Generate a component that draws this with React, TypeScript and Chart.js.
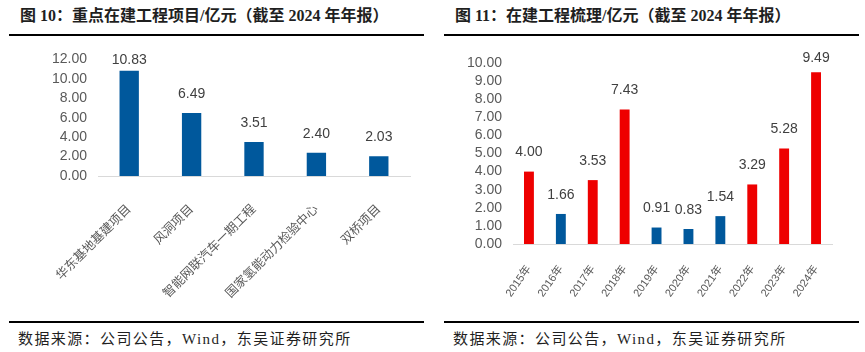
import React, { useEffect, useRef } from "react";
import { Chart, registerables } from "chart.js";

Chart.register(...registerables);

// ---- Data ----
const projectNames = ["华东基地基建项目", "风洞项目", "智能网联汽车一期工程", "国家氢能动力检验中心", "双桥项目"];
const projectValues = [10.83, 6.49, 3.51, 2.4, 2.03];
const projectTickMax = 12;
const projectTickStep = 2;

const years = ["2015年", "2016年", "2017年", "2018年", "2019年", "2020年", "2021年", "2022年", "2023年", "2024年"];
const yearValues = [4.0, 1.66, 3.53, 7.43, 0.91, 0.83, 1.54, 3.29, 5.28, 9.49];
const yearTickMax = 10;
const yearTickStep = 1;

// ---- Styles ----
const BLUE = "#00589C";
const RED = "#EE0000";
const yearColors = [RED, BLUE, RED, RED, BLUE, BLUE, BLUE, RED, RED, RED];

const TICK_FONT = "'Liberation Sans', Arial, 'Noto Sans CJK SC', sans-serif";
const CAT_FONT = "'Liberation Sans', 'Noto Sans CJK SC', sans-serif";
const SERIF = "'Liberation Serif', 'Times New Roman', 'Noto Sans CJK SC', serif";

function makeLabelPlugin(offset: number, minYFromTop: number) {
  return {
    id: "barValueLabels",
    afterDatasetsDraw(chart: any) {
      const ctx = chart.ctx;
      const meta = chart.getDatasetMeta(0);
      const data = chart.data.datasets[0].data as number[];
      ctx.save();
      ctx.font = `14px ${TICK_FONT}`;
      ctx.fillStyle = "#404040";
      ctx.textAlign = "center";
      ctx.textBaseline = "middle";
      meta.data.forEach((el: any, i: number) => {
        const y = Math.max(el.y - offset, chart.chartArea.top + minYFromTop);
        ctx.fillText(data[i].toFixed(2), el.x, y);
      });
      ctx.restore();
    },
  };
}

function BarChart(props: {
  labels: string[];
  values: number[];
  colors: string | string[];
  max: number;
  step: number;
  width: number;
  height: number;
  yWidth: number;
  xHeight: number;
  padRight: number;
  padTop: number;
  rotation: number;
  catFontSize: number;
  tickPad: number;
  labelMin: number;
}) {
  const ref = useRef<HTMLCanvasElement>(null);
  useEffect(() => {
    if (!ref.current) return;
    const chart = new Chart(ref.current, {
      type: "bar",
      data: {
        labels: props.labels,
        datasets: [
          {
            data: props.values,
            backgroundColor: props.colors as any,
            categoryPercentage: 1,
            barPercentage: 0.31,
          },
        ],
      },
      options: {
        animation: false,
        responsive: false,
        devicePixelRatio: 1,
        layout: { padding: { left: 0, right: props.padRight, top: props.padTop, bottom: 0 } },
        plugins: { legend: { display: false }, tooltip: { enabled: false }, title: { display: false } },
        scales: {
          x: {
            grid: { display: false, drawTicks: false },
            border: { display: true, color: "#D9D9D9", width: 1 },
            ticks: {
              color: "#595959",
              font: { size: props.catFontSize, family: CAT_FONT },
              minRotation: props.rotation,
              maxRotation: props.rotation,
              autoSkip: false,
              padding: props.tickPad,
            },
            afterFit(scale: any) {
              scale.height = props.xHeight;
            },
          },
          y: {
            min: 0,
            max: props.max,
            grid: { display: false, drawTicks: false },
            border: { display: false },
            ticks: {
              stepSize: props.step,
              autoSkip: false,
              color: "#595959",
              font: { size: 14, family: TICK_FONT },
              padding: 11,
              callback: (v: any) => Number(v).toFixed(2),
            },
            afterFit(scale: any) {
              scale.width = props.yWidth;
            },
          },
        },
      },
      plugins: [makeLabelPlugin(19, props.labelMin)],
    });
    return () => chart.destroy();
  }, []);
  return <canvas ref={ref} width={props.width} height={props.height} style={{ width: props.width, height: props.height, display: "block" }} />;
}

const titleStyle: React.CSSProperties = {
  position: "absolute",
  top: 5,
  fontFamily: SERIF,
  fontWeight: "bold",
  fontSize: 16,
  color: "#1f1f1f",
  whiteSpace: "nowrap",
  lineHeight: "22px",
};
const footStyle: React.CSSProperties = {
  position: "absolute",
  top: 329,
  fontFamily: SERIF,
  fontSize: 15,
  letterSpacing: "1.4px",
  color: "#1f1f1f",
  whiteSpace: "nowrap",
  lineHeight: "20px",
};
const lineStyle = (left: number, top: number, width: number): React.CSSProperties => ({
  position: "absolute",
  left,
  top,
  width,
  height: 2,
  background: "#000",
});

export default function App() {
  return (
    <div style={{ position: "fixed", left: 0, top: 0, width: 865, height: 352, background: "#fff", overflow: "hidden" }}>
      <div style={{ ...titleStyle, left: 20 }}>图 10：重点在建工程项目/亿元（截至 2024 年年报）</div>
      <div style={{ ...titleStyle, left: 455 }}>图 11：在建工程梳理/亿元（截至 2024 年年报）</div>
      <div style={lineStyle(9, 34, 415)} />
      <div style={lineStyle(444, 34, 415)} />
      <div style={{ position: "absolute", left: 0, top: 40 }}>
        <BarChart
          labels={projectNames}
          values={projectValues}
          colors={BLUE}
          max={projectTickMax}
          step={projectTickStep}
          width={430}
          height={260}
          yWidth={98}
          xHeight={124}
          padRight={20}
          padTop={12}
          rotation={45}
          catFontSize={12.5}
          tickPad={26}
          labelMin={1}
        />
      </div>
      <div style={{ position: "absolute", left: 430, top: 40 }}>
        <BarChart
          labels={years}
          values={yearValues}
          colors={yearColors}
          max={yearTickMax}
          step={yearTickStep}
          width={435}
          height={260}
          yWidth={83}
          xHeight={56}
          padRight={33}
          padTop={23}
          rotation={55}
          catFontSize={11}
          tickPad={19}
          labelMin={-5}
        />
      </div>
      <div style={lineStyle(9, 321, 415)} />
      <div style={lineStyle(444, 321, 415)} />
      <div style={{ ...footStyle, left: 18 }}>数据来源：公司公告，Wind，东吴证券研究所</div>
      <div style={{ ...footStyle, left: 453 }}>数据来源：公司公告，Wind，东吴证券研究所</div>
    </div>
  );
}
